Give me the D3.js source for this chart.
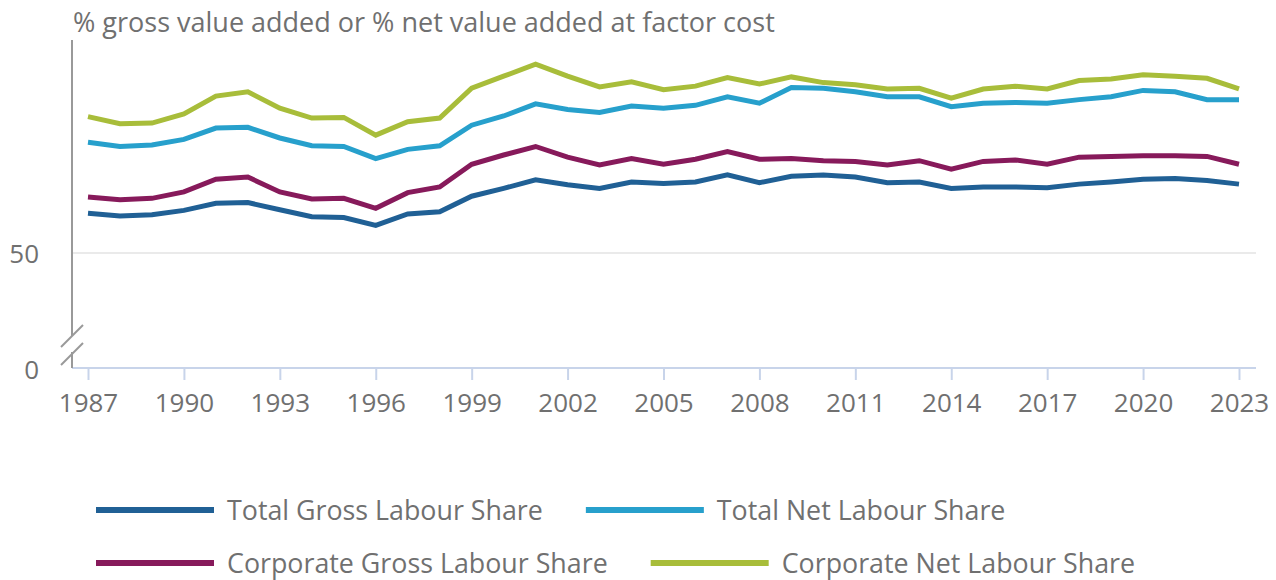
<!DOCTYPE html>
<html>
<head>
<meta charset="utf-8">
<script src="https://cdn.jsdelivr.net/npm/d3@7"></script>
<style>
  body { margin: 0; background: #fff; }
  svg text { font-family: "Open Sans", sans-serif; fill: #707070; }
</style>
</head>
<body>
<svg id="drawspace" width="1276" height="580"></svg>
<script>
let years = d3.range(1987, 2024);

let totalGross = [55.6, 55.2, 55.4, 56.0, 57.0, 57.1, 56.1, 55.1, 55.0, 53.9, 55.5, 55.8,
  58.0, 59.1, 60.3, 59.6, 59.1, 60.0, 59.8, 60.0, 61.0, 59.9, 60.8, 61.0, 60.7, 59.9,
  60.0, 59.1, 59.3, 59.3, 59.2, 59.7, 60.0, 60.4, 60.5, 60.2, 59.7];
let totalNet = [65.6, 65.0, 65.2, 66.0, 67.6, 67.7, 66.2, 65.1, 65.0, 63.3, 64.6, 65.1,
  68.0, 69.3, 71.0, 70.2, 69.8, 70.7, 70.4, 70.8, 72.0, 71.1, 73.3, 73.2, 72.7, 72.0,
  72.0, 70.6, 71.1, 71.2, 71.1, 71.6, 72.0, 72.9, 72.7, 71.6, 71.6];
let corpGross = [57.9, 57.5, 57.7, 58.6, 60.4, 60.7, 58.6, 57.6, 57.7, 56.3, 58.5, 59.3,
  62.5, 63.8, 65.0, 63.5, 62.4, 63.3, 62.5, 63.2, 64.3, 63.2, 63.3, 63.0, 62.9, 62.4,
  63.0, 61.8, 62.9, 63.1, 62.5, 63.5, 63.6, 63.7, 63.7, 63.6, 62.5];
let corpNet = [69.2, 68.2, 68.3, 69.6, 72.1, 72.7, 70.4, 69.0, 69.1, 66.6, 68.5, 69.0,
  73.2, 74.9, 76.6, 74.9, 73.4, 74.1, 73.0, 73.5, 74.7, 73.8, 74.8, 74.0, 73.7, 73.1,
  73.2, 71.8, 73.1, 73.5, 73.1, 74.3, 74.5, 75.1, 74.9, 74.6, 73.1];

let seriesNames = ["Total Gross Labour Share", "Total Net Labour Share",
  "Corporate Gross Labour Share", "Corporate Net Labour Share"];
let seriesColors = ["#206095", "#27a0cc", "#871a5b", "#a8bd3a"];
let xTicks = [1987, 1990, 1993, 1996, 1999, 2002, 2005, 2008, 2011, 2014, 2017, 2020, 2023];
let yTicks = [0, 50];

let series = [totalGross, totalNet, corpGross, corpNet].map((vals, i) => ({
  name: seriesNames[i], color: seriesColors[i],
  points: vals.map((v, j) => ({ year: years[j], value: v }))
}));

let svg = d3.select("#drawspace");

let x = d3.scaleLinear().domain([1987, 2023]).range([88, 1239]);
// broken axis: 0 sits below the break, the rest is linear
let y = d3.scaleLinear().domain([0, 40, 80]).range([368, 324, 40]);

// title
svg.append("text")
  .attr("x", 73).attr("y", 32)
  .style("font-size", "27px")
  .text("% gross value added or % net value added at factor cost");

// gridline at 50
svg.append("line")
  .attr("x1", 72).attr("x2", 1256)
  .attr("y1", y(50)).attr("y2", y(50))
  .attr("stroke", "#e3e3e3").attr("stroke-width", 1.5);

// x axis
let xAxis = svg.append("g")
  .attr("transform", "translate(0,368)")
  .call(d3.axisBottom(x).tickValues(xTicks).tickFormat(d3.format("d")).tickSize(12).tickSizeOuter(0));
xAxis.select(".domain").remove();
xAxis.selectAll(".tick line").attr("stroke", "#c8d4ea").attr("stroke-width", 2);
xAxis.selectAll(".tick text").attr("y", 26).style("font-size", "26px").attr("fill", "#707070");
svg.append("line")
  .attr("x1", 72).attr("x2", 1256).attr("y1", 368).attr("y2", 368)
  .attr("stroke", "#c8d4ea").attr("stroke-width", 2);

// y axis labels
let yAxis = svg.append("g")
  .attr("transform", "translate(39,0)")
  .call(d3.axisLeft(y).tickValues(yTicks).tickSize(0).tickPadding(0));
yAxis.select(".domain").remove();
yAxis.selectAll(".tick text").style("font-size", "26px").attr("fill", "#707070")
  .attr("dy", (d) => d === 0 ? "0.42em" : "0.36em");

// y axis line with break marks
svg.append("line").attr("x1", 72).attr("x2", 72).attr("y1", 40).attr("y2", 336)
  .attr("stroke", "#999").attr("stroke-width", 2);
svg.append("line").attr("x1", 72).attr("x2", 72).attr("y1", 352).attr("y2", 368)
  .attr("stroke", "#999").attr("stroke-width", 2);
[[61, 347, 83, 325], [61, 365, 83, 343]].forEach(s => {
  svg.append("line").attr("x1", s[0]).attr("y1", s[1]).attr("x2", s[2]).attr("y2", s[3])
    .attr("stroke", "#999").attr("stroke-width", 2);
});

// lines
let line = d3.line().x(d => x(d.year)).y(d => y(d.value));
svg.selectAll("path.series")
  .data(series)
  .enter()
  .append("path")
  .attr("class", "series")
  .attr("d", d => line(d.points))
  .attr("fill", "none")
  .attr("stroke", d => d.color)
  .attr("stroke-width", 5)
  .attr("stroke-linejoin", "miter");

// legend, two rows, flowing left to right
let rows = [[0, 1], [2, 3]];
let rowY = [510, 563];
rows.forEach((row, r) => {
  let cx = 96;
  row.forEach(i => {
    let g = svg.append("g");
    g.append("line")
      .attr("x1", cx).attr("x2", cx + 118)
      .attr("y1", rowY[r]).attr("y2", rowY[r])
      .attr("stroke", seriesColors[i]).attr("stroke-width", 6);
    let t = g.append("text")
      .attr("x", cx + 131).attr("y", rowY[r])
      .attr("dy", "0.36em")
      .style("font-size", "26.8px")
      .text(seriesNames[i]);
    cx += 131 + t.node().getComputedTextLength() + 43;
  });
});
</script>
</body>
</html>
